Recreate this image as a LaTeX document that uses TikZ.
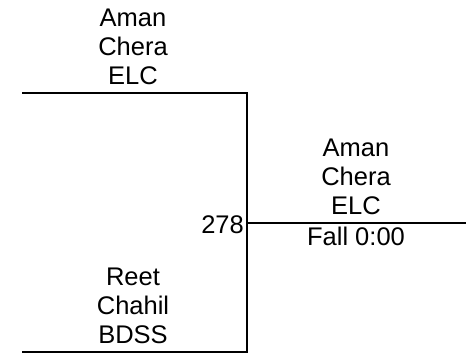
\documentclass[tikz,border=0pt]{standalone}
\usepackage{fontspec}
\setmainfont{Liberation Sans}

\tikzset{
  player/.style={align=center, inner sep=0pt, anchor=base,
    font=\fontsize{25.5}{28.6}\selectfont},
  score/.style={inner sep=0pt, font=\fontsize{25.5}{28.6}\selectfont},
  bracket/.style={line width=1.6pt}
}

\begin{document}
\begin{tikzpicture}[x=1pt, y=-1pt]
  \useasboundingbox (0,0) rectangle (466,354);
  \coordinate (T1) at (22,93);
  \coordinate (T2) at (247,93);
  \coordinate (B1) at (22,352);
  \coordinate (B2) at (247,352);
  \coordinate (M) at (247,222.7);
  \coordinate (W) at (466,222.7);
  \draw[bracket] (T1) -- (T2) -- (B2) -- (B1);
  \draw[bracket] (M) -- (W);
  % multi-line nodes sit on the baseline of their last line
  \node[player] (top) at (133,84) {Aman\\Chera\\ELC};
  \node[player] (bot) at (133,343) {Reet\\Chahil\\BDSS};
  \node[player] (win) at (356,214) {Aman\\Chera\\ELC};
  \node[score, anchor=base east] (seed) at (244,233) {278};
  \node[score, anchor=base] (res) at (356,245) {Fall 0:00};
\end{tikzpicture}
\end{document}
